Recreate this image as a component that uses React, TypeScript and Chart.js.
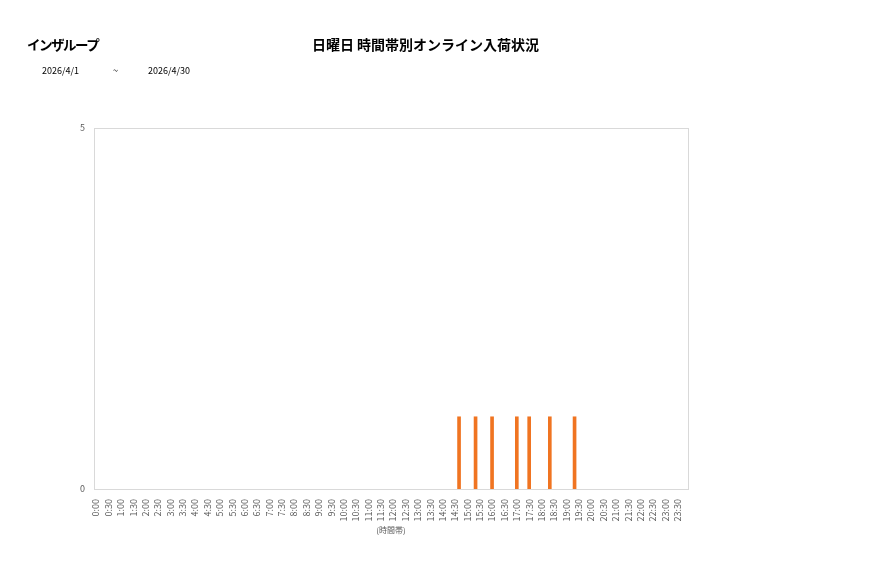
import { useEffect, useRef } from 'react';
import { Chart, type ChartConfiguration, type Plugin, registerables } from 'chart.js';

Chart.register(...registerables);

// 10分刻みの時間帯（ラベルは30分ごとに表示）
const slotMinutes = 10;
const timeSlots: string[] = [];
for (let m = 0; m < 24 * 60; m += slotMinutes) {
  timeSlots.push(`${Math.floor(m / 60)}:${String(m % 60).padStart(2, '0')}`);
}

// 入荷があった時間帯と件数
const arrivalTimes = ['14:40', '15:20', '16:00', '17:00', '17:30', '18:20', '19:20'];
const arrivalCounts = [1, 1, 1, 1, 1, 1, 1];

const yTicks = [0, 5];

const seriesValues = timeSlots.map((t) => {
  const i = arrivalTimes.indexOf(t);
  return i >= 0 ? arrivalCounts[i] : null;
});

const FONT = '"Noto Sans CJK JP", "Noto Sans", sans-serif';

const frame: Plugin<'bar'> = {
  id: 'frame',
  beforeDatasetsDraw(chart) {
    const { ctx, chartArea: a } = chart;
    ctx.save();
    ctx.strokeStyle = '#d9d9d9';
    ctx.lineWidth = 1;
    ctx.strokeRect(Math.round(a.left) + 0.5, Math.round(a.top) + 0.5, a.width, a.height);
    ctx.restore();
  },
};

function SundayChart() {
  const canvasRef = useRef<HTMLCanvasElement | null>(null);
  const chartRef = useRef<Chart<'bar'> | null>(null);

  useEffect(() => {
    if (!canvasRef.current) return;
    const config: ChartConfiguration<'bar'> = {
      type: 'bar',
      data: {
        labels: timeSlots,
        datasets: [
          {
            label: '入荷',
            data: seriesValues,
            backgroundColor: '#F07421',
            barThickness: 3,
          },
        ],
      },
      options: {
        responsive: false,
        animation: false,
        layout: { padding: { left: 0, top: 128, right: 189, bottom: 43 } },
        plugins: {
          legend: { display: false },
          tooltip: { enabled: false },
        },
        scales: {
          x: {
            grid: { display: false },
            border: { display: false },
            ticks: {
              autoSkip: false,
              minRotation: 90,
              maxRotation: 90,
              padding: 2,
              color: '#595959',
              font: { family: FONT, size: 9 },
              callback: (_v, i) => (i % 3 === 0 ? timeSlots[i] : ''),
            },
            title: {
              display: true,
              text: '(時間帯)',
              color: '#595959',
              font: { family: FONT, size: 8 },
              padding: { top: 0, bottom: 0 },
            },
            afterFit: (scale) => {
              scale.height = 46;
            },
          },
          y: {
            min: yTicks[0],
            max: yTicks[yTicks.length - 1],
            grid: { display: false },
            border: { display: false },
            afterBuildTicks: (scale) => {
              scale.ticks = yTicks.map((v) => ({ value: v }));
            },
            ticks: {
              padding: 1,
              color: '#595959',
              font: { family: FONT, size: 9 },
            },
            afterFit: (scale) => {
              scale.width = 94;
            },
          },
        },
      },
      plugins: [frame],
    };

    if (!chartRef.current) chartRef.current = new Chart(canvasRef.current, config);

    return () => {
      chartRef.current?.destroy();
      chartRef.current = null;
    };
  }, []);

  return <canvas ref={canvasRef} width={877} height={578} style={{ position: 'absolute', left: 0, top: 0 }} />;
}

export default function App() {
  return (
    <div style={{ position: 'fixed', inset: 0, background: '#fff', fontFamily: FONT }}>
      <SundayChart />
      <div
        style={{
          position: 'absolute',
          left: 27,
          top: 34,
          fontSize: 13.5,
          letterSpacing: -1.5,
          fontWeight: 'bold',
          color: '#000',
        }}
      >
        インザループ
      </div>
      <div
        style={{
          position: 'absolute',
          left: 0,
          width: 851,
          top: 34,
          textAlign: 'center',
          fontSize: 14,
          fontWeight: 'bold',
          color: '#000',
        }}
      >
        日曜日 時間帯別オンライン入荷状況
      </div>
      <div style={{ position: 'absolute', left: 42, top: 64, fontSize: 9, color: '#000' }}>2026/4/1</div>
      <div style={{ position: 'absolute', left: 113, top: 64, fontSize: 9, color: '#000' }}>~</div>
      <div style={{ position: 'absolute', left: 148, top: 64, fontSize: 9, color: '#000' }}>2026/4/30</div>
    </div>
  );
}
